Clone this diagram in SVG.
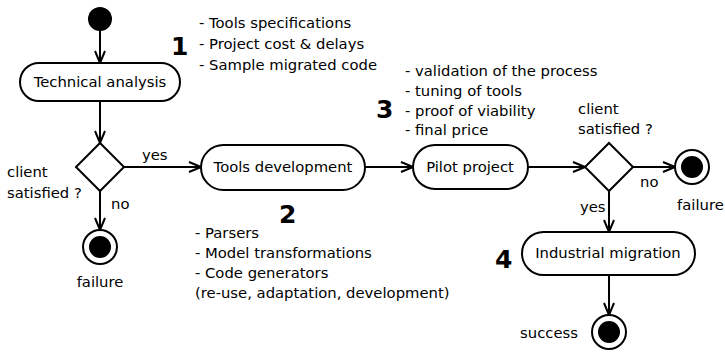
<svg xmlns="http://www.w3.org/2000/svg" width="725" height="353" viewBox="0 0 725 353">
<defs>
<marker id="arr" viewBox="0 0 14 12" refX="13" refY="6" markerWidth="14" markerHeight="12" markerUnits="userSpaceOnUse" orient="auto">
<path d="M1,1 L13,6 L1,11" fill="none" stroke="#000" stroke-width="2"/>
</marker>
<style>
.n{fill:#fff;stroke:#000;stroke-width:2}
.c{fill:none;stroke:#000;stroke-width:2;marker-end:url(#arr)}
.t{font-family:"DejaVu Sans",sans-serif;font-size:14.8px;fill:#000}
.m{text-anchor:middle}
.b{font-family:"DejaVu Sans",sans-serif;font-size:25px;font-weight:bold;fill:#000}
.e{fill:#fff;stroke:#000;stroke-width:2}
</style>
</defs>
<rect width="725" height="353" fill="#fff"/>
<g id="connectors">
<line class="c" x1="100" y1="31" x2="100" y2="63"/>
<line class="c" x1="100" y1="101" x2="100" y2="143"/>
<line class="c" x1="124" y1="167" x2="201" y2="167"/>
<line class="c" x1="100" y1="191" x2="100" y2="230"/>
<line class="c" x1="365" y1="167" x2="413" y2="167"/>
<line class="c" x1="528" y1="167" x2="585" y2="167"/>
<line class="c" x1="633" y1="167" x2="675" y2="167"/>
<line class="c" x1="609" y1="191" x2="609" y2="232"/>
<line class="c" x1="609" y1="275" x2="609" y2="315"/>
</g>
<g id="start"><circle cx="100" cy="19" r="12" fill="#000"/></g>
<g id="technical-analysis">
<rect class="n" x="20" y="63" width="160" height="38" rx="19"/>
<text class="t m" x="100" y="87">Technical analysis</text>
</g>
<g id="decision1">
<polygon class="n" points="100,143 124,167 100,191 76,167"/>
<text class="t" x="7" y="177">client</text>
<text class="t" x="7" y="198">satisfied ?</text>
<text class="t" x="142" y="160">yes</text>
<text class="t" x="111" y="209">no</text>
</g>
<g id="failure1">
<circle class="e" cx="100" cy="247" r="17"/>
<circle cx="100" cy="247" r="11" fill="#000"/>
<text class="t m" x="100" y="287">failure</text>
</g>
<g id="tools-development">
<rect class="n" x="201" y="145" width="164" height="45" rx="22.5"/>
<text class="t m" x="283" y="172">Tools development</text>
</g>
<g id="pilot-project">
<rect class="n" x="413" y="145" width="115" height="44" rx="22"/>
<text class="t m" x="470" y="172">Pilot project</text>
</g>
<g id="decision2">
<polygon class="n" points="609,143 633,167 609,191 585,167"/>
<text class="t" x="578" y="114">client</text>
<text class="t" x="578" y="134">satisfied ?</text>
<text class="t" x="640" y="187">no</text>
<text class="t" x="580" y="212">yes</text>
</g>
<g id="failure2">
<circle class="e" cx="692" cy="167" r="17"/>
<circle cx="692" cy="167" r="11" fill="#000"/>
<text class="t" x="677" y="210">failure</text>
</g>
<g id="industrial-migration">
<rect class="n" x="522" y="232" width="173" height="43" rx="21.5"/>
<text class="t m" x="608" y="258">Industrial migration</text>
</g>
<g id="success">
<circle class="e" cx="609" cy="332" r="17"/>
<circle cx="609" cy="332" r="11" fill="#000"/>
<text class="t" x="578" y="338" text-anchor="end">success</text>
</g>
<g id="note1">
<text class="b" x="171" y="55">1</text>
<text class="t" x="199" y="28">- Tools specifications</text>
<text class="t" x="199" y="49">- Project cost &amp; delays</text>
<text class="t" x="199" y="70">- Sample migrated code</text>
</g>
<g id="note2">
<text class="b" x="279" y="223">2</text>
<text class="t" x="195" y="238">- Parsers</text>
<text class="t" x="195" y="258">- Model transformations</text>
<text class="t" x="195" y="278">- Code generators</text>
<text class="t" x="195" y="298">(re-use, adaptation, development)</text>
</g>
<g id="note3">
<text class="b" x="376" y="118">3</text>
<text class="t" x="405" y="76">- validation of the process</text>
<text class="t" x="405" y="96">- tuning of tools</text>
<text class="t" x="405" y="116">- proof of viability</text>
<text class="t" x="405" y="135">- final price</text>
</g>
<g id="note4">
<text class="b" x="495" y="268">4</text>
</g>
</svg>
